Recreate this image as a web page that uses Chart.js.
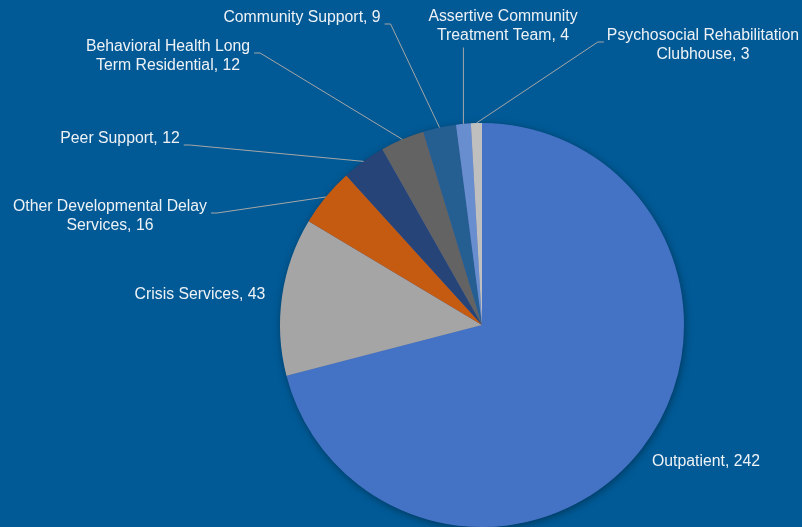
<!DOCTYPE html>
<html>
<head>
<meta charset="utf-8">
<script src="https://cdn.jsdelivr.net/npm/chart.js@4.4.0/dist/chart.umd.min.js"></script>
<style>
  html, body { margin: 0; padding: 0; background: #015A96; }
  #wrap { width: 802px; height: 527px; }
</style>
</head>
<body>
<div id="wrap"><canvas id="myChart" width="802" height="527"></canvas></div>
<script>
// program categories (multi-line names are split where the label wraps)
const programs = [
  ["Outpatient"],
  ["Crisis Services"],
  ["Other Developmental Delay", "Services"],
  ["Peer Support"],
  ["Behavioral Health Long", "Term Residential"],
  ["Community Support"],
  ["Assertive Community", "Treatment Team"],
  ["Psychosocial Rehabilitation", "Clubhouse"]
];
const counts = [242, 43, 16, 12, 12, 9, 4, 3];
const sliceColors = ["#4472C4", "#A5A5A5", "#C55A11", "#264478", "#636363", "#255E91", "#698ED0", "#BFBFBF"];

// where each label sits (centre x, first line y) and which side the leader leaves from
const labelSpots = [
  { x: 706, y: 462, side: null },
  { x: 200, y: 295, side: null },
  { x: 110, y: 207, side: "right" },
  { x: 120, y: 139, side: "right" },
  { x: 168, y: 47, side: "right" },
  { x: 302, y: 18, side: "right" },
  { x: 503, y: 17, side: "below" },
  { x: 703, y: 36, side: "left" }
];

const FONT = "15.8px 'Liberation Sans', Arial, sans-serif";
const LINE_H = 18.5;

// one soft shadow under the whole pie, drawn before the slices
const shadowPlugin = {
  id: "pieShadow",
  beforeDatasetsDraw(chart) {
    const arc = chart.getDatasetMeta(0).data[0];
    if (!arc) return;
    const ctx = chart.ctx;
    ctx.save();
    ctx.shadowColor = "rgba(0,0,0,0.4)";
    ctx.shadowBlur = 8;
    ctx.shadowOffsetX = 1;
    ctx.shadowOffsetY = 2;
    ctx.fillStyle = "#3F63A8";
    ctx.beginPath();
    ctx.arc(arc.x, arc.y, arc.outerRadius - 0.5, 0, Math.PI * 2);
    ctx.fill();
    ctx.restore();
  }
};

const labelPlugin = {
  id: "sliceLabels",
  afterDatasetsDraw(chart) {
    const ctx = chart.ctx;
    const arcs = chart.getDatasetMeta(0).data;
    ctx.save();
    ctx.font = FONT;
    ctx.textAlign = "center";
    ctx.textBaseline = "middle";
    arcs.forEach((arc, i) => {
      const spot = labelSpots[i];
      const lines = programs[i].slice();
      lines[lines.length - 1] += ", " + counts[i];

      // leader line from the label to the slice edge
      if (spot.side) {
        const mid = (arc.startAngle + arc.endAngle) / 2;
        const ex = arc.x + Math.cos(mid) * arc.outerRadius;
        const ey = arc.y + Math.sin(mid) * arc.outerRadius;
        const widest = Math.max(...lines.map(l => ctx.measureText(l).width));
        let sx, sy, tx, ty;
        if (spot.side === "right") {
          sx = spot.x + widest / 2 + 4; sy = spot.y + 6; tx = sx + 6; ty = sy;
        } else if (spot.side === "left") {
          sx = spot.x - widest / 2 - 3; sy = spot.y + 6; tx = sx - 6; ty = sy;
        } else {
          sx = ex; sy = spot.y + (lines.length - 1) * LINE_H + 12; tx = sx; ty = sy;
        }
        ctx.strokeStyle = "#A6A6A6";
        ctx.lineWidth = 1;
        ctx.beginPath();
        ctx.moveTo(sx, sy);
        ctx.lineTo(tx, ty);
        ctx.lineTo(ex, ey);
        ctx.stroke();
      }

      ctx.fillStyle = "#EEF2F6";
      lines.forEach((l, k) => ctx.fillText(l, spot.x, spot.y + k * LINE_H));
    });
    ctx.restore();
  }
};

const myChart = new Chart(document.getElementById("myChart"), {
  type: "pie",
  data: {
    labels: programs.map(p => p.join(" ")),
    datasets: [{
      data: counts,
      backgroundColor: sliceColors,
      borderWidth: 0
    }]
  },
  options: {
    responsive: false,
    animation: false,
    layout: { padding: { top: 123, bottom: 0, left: 280, right: 118 } },
    plugins: {
      legend: { display: false },
      tooltip: { enabled: false }
    }
  },
  plugins: [shadowPlugin, labelPlugin]
});
</script>
</body>
</html>
